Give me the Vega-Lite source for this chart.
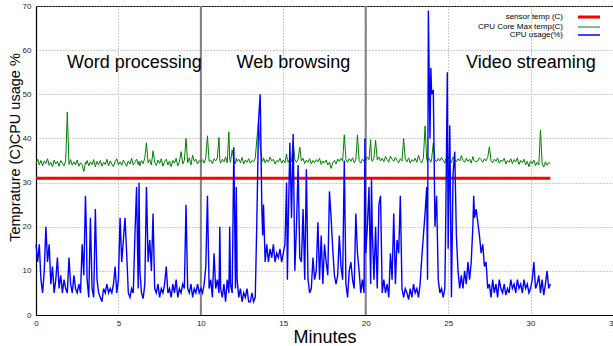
{
"$schema": "https://vega.github.io/schema/vega-lite/v6.json",
"width": 577, "height": 309,
"autosize": {"type": "none"},
"padding": {"left": 36, "top": 6, "right": 0, "bottom": 31},
"background": "white",
"config": {"view": {"stroke": "black", "strokeWidth": 1}, "font": "Liberation Sans"},
"datasets": {
"marks": [{"t": 10}, {"t": 20}],
"sensor": [{"t": 0, "v": 31}, {"t": 31.2, "v": 31}],
"notes": [{"t": 1.88, "v": 55.96, "label": "Word processing"}, {"t": 12.16, "v": 55.96, "label": "Web browsing"}, {"t": 26.08, "v": 55.96, "label": "Video streaming"}],
"series": [
{"t":0.0,"u":16,"c":34.2},{"t":0.1,"u":12,"c":35.3},{"t":0.2,"u":16,"c":34.0},{"t":0.3,"u":8,"c":35.0},{"t":0.4,"u":5,"c":33.8},{"t":0.5,"u":10,"c":34.9},{"t":0.6,"u":20,"c":34.3},{"t":0.7,"u":12,"c":35.4},{"t":0.8,"u":16,"c":33.9},{"t":0.9,"u":7,"c":34.6},
{"t":1.0,"u":11,"c":33.6},{"t":1.1,"u":5,"c":35.1},{"t":1.2,"u":8,"c":34.2},{"t":1.3,"u":13,"c":34.8},{"t":1.4,"u":6,"c":33.7},{"t":1.5,"u":9,"c":35.0},{"t":1.6,"u":5,"c":34.4},{"t":1.7,"u":8,"c":33.8},{"t":1.8,"u":6,"c":34.9},{"t":1.9,"u":5,"c":46},
{"t":2.0,"u":13,"c":34.1},{"t":2.1,"u":7,"c":35.2},{"t":2.2,"u":5,"c":33.9},{"t":2.3,"u":9,"c":34.7},{"t":2.4,"u":6,"c":34.0},{"t":2.5,"u":5,"c":35.1},{"t":2.6,"u":7,"c":33.7},{"t":2.7,"u":5,"c":34.5},{"t":2.8,"u":16,"c":34.0},{"t":2.9,"u":9,"c":32.5},
{"t":3.0,"u":27,"c":34.6},{"t":3.05,"u":20,"c":34.2},{"t":3.1,"u":8,"c":35.0},{"t":3.2,"u":4,"c":33.8},{"t":3.3,"u":22,"c":34.7},{"t":3.4,"u":6,"c":34.1},{"t":3.5,"u":4,"c":35.2},{"t":3.6,"u":24,"c":33.6},{"t":3.7,"u":8,"c":34.8},{"t":3.8,"u":5,"c":34.0},{"t":3.9,"u":4,"c":35.0},
{"t":4.0,"u":3,"c":33.7},{"t":4.1,"u":6,"c":34.6},{"t":4.2,"u":5,"c":34.1},{"t":4.3,"u":7,"c":35.3},{"t":4.4,"u":5,"c":33.8},{"t":4.5,"u":6,"c":34.9},{"t":4.6,"u":5,"c":34.2},{"t":4.7,"u":7,"c":33.6},{"t":4.8,"u":11,"c":34.8},{"t":4.9,"u":5,"c":35.4},
{"t":5.0,"u":8,"c":34.0},{"t":5.1,"u":22,"c":34.7},{"t":5.2,"u":12,"c":33.9},{"t":5.3,"u":17,"c":35.1},{"t":5.4,"u":22,"c":34.4},{"t":5.5,"u":14,"c":33.7},{"t":5.6,"u":5,"c":34.9},{"t":5.7,"u":4,"c":34.2},{"t":5.8,"u":6,"c":35.5},{"t":5.9,"u":5,"c":34.0},
{"t":6.0,"u":18,"c":34.6},{"t":6.1,"u":29,"c":35.3},{"t":6.2,"u":6,"c":34.1},{"t":6.25,"u":30,"c":34.8},{"t":6.3,"u":10,"c":33.8},{"t":6.4,"u":5,"c":35.0},{"t":6.5,"u":3.7,"c":34.3},{"t":6.6,"u":7,"c":35.6},{"t":6.7,"u":29,"c":39},{"t":6.8,"u":12,"c":34.5},{"t":6.9,"u":17,"c":35.2},
{"t":7.0,"u":10,"c":34.0},{"t":7.1,"u":23,"c":37.2},{"t":7.2,"u":6,"c":34.6},{"t":7.3,"u":5,"c":33.9},{"t":7.4,"u":7,"c":35.1},{"t":7.5,"u":4,"c":34.3},{"t":7.6,"u":6,"c":35.4},{"t":7.7,"u":5,"c":33.7},{"t":7.8,"u":7,"c":34.8},{"t":7.9,"u":11,"c":35.3},
{"t":8.0,"u":5,"c":34.0},{"t":8.1,"u":6,"c":34.9},{"t":8.2,"u":4,"c":33.6},{"t":8.3,"u":7,"c":35.0},{"t":8.4,"u":5,"c":34.4},{"t":8.5,"u":8,"c":35.5},{"t":8.6,"u":4,"c":33.8},{"t":8.7,"u":6,"c":34.7},{"t":8.8,"u":5,"c":37.0},{"t":8.9,"u":7,"c":34.2},
{"t":9.0,"u":6,"c":35.1},{"t":9.1,"u":25,"c":40.0},{"t":9.2,"u":6,"c":34.5},{"t":9.3,"u":5,"c":35.6},{"t":9.4,"u":7,"c":34.0},{"t":9.5,"u":4,"c":36.2},{"t":9.6,"u":6,"c":34.8},{"t":9.7,"u":5,"c":35.3},{"t":9.8,"u":7,"c":34.2},{"t":9.9,"u":5,"c":35.0},
{"t":10.0,"u":6,"c":34.6},{"t":10.1,"u":5,"c":35.2},{"t":10.2,"u":7,"c":34.4},{"t":10.3,"u":11,"c":35.6},{"t":10.4,"u":27,"c":40.6},{"t":10.5,"u":6,"c":34.8},{"t":10.6,"u":8,"c":35.1},{"t":10.7,"u":4,"c":34.3},{"t":10.8,"u":14,"c":35.4},{"t":10.9,"u":6,"c":34.9},
{"t":11.0,"u":8,"c":35.6},{"t":11.1,"u":5,"c":40.2},{"t":11.15,"u":20,"c":35.0},{"t":11.2,"u":6,"c":34.4},{"t":11.3,"u":4,"c":35.3},{"t":11.4,"u":7,"c":34.7},{"t":11.5,"u":3,"c":35.8},{"t":11.6,"u":8,"c":34.5},{"t":11.7,"u":5,"c":41.5},{"t":11.75,"u":20,"c":35.2},{"t":11.8,"u":7,"c":34.6},{"t":11.9,"u":5,"c":37.4},
{"t":12.0,"u":38,"c":35.0},{"t":12.1,"u":6,"c":34.3},{"t":12.15,"u":29,"c":35.5},{"t":12.2,"u":8,"c":34.8},{"t":12.3,"u":4,"c":35.3},{"t":12.4,"u":6,"c":34.5},{"t":12.5,"u":3,"c":35.7},{"t":12.6,"u":5,"c":34.2},{"t":12.7,"u":4,"c":35.1},{"t":12.8,"u":6,"c":34.6},{"t":12.9,"u":3,"c":35.4},
{"t":13.0,"u":3,"c":34.4},{"t":13.1,"u":5,"c":35.0},{"t":13.2,"u":3,"c":34.7},{"t":13.3,"u":4,"c":35.5},{"t":13.4,"u":22,"c":40.0},{"t":13.5,"u":44,"c":44.0},{"t":13.6,"u":50,"c":38.0},{"t":13.7,"u":24,"c":35.3},{"t":13.75,"u":18,"c":34.8},{"t":13.8,"u":25,"c":35.6},{"t":13.9,"u":12,"c":34.5},
{"t":14.0,"u":16,"c":35.2},{"t":14.1,"u":12,"c":34.6},{"t":14.2,"u":15,"c":35.8},{"t":14.3,"u":13,"c":34.9},{"t":14.4,"u":16,"c":35.3},{"t":14.5,"u":12,"c":34.2},{"t":14.6,"u":14,"c":35.0},{"t":14.7,"u":13,"c":34.7},{"t":14.8,"u":15,"c":35.5},{"t":14.9,"u":12,"c":34.4},
{"t":15.0,"u":14,"c":35.1},{"t":15.1,"u":16,"c":34.5},{"t":15.2,"u":30,"c":36.5},{"t":15.25,"u":8,"c":35.0},{"t":15.3,"u":20,"c":34.6},{"t":15.4,"u":39,"c":35.4},{"t":15.5,"u":22,"c":34.8},{"t":15.6,"u":41,"c":39.5},{"t":15.7,"u":10,"c":35.2},{"t":15.8,"u":20,"c":34.6},{"t":15.9,"u":34,"c":35.3},
{"t":16.0,"u":13,"c":38.0},{"t":16.1,"u":12,"c":34.9},{"t":16.2,"u":24,"c":35.5},{"t":16.3,"u":8,"c":34.3},{"t":16.4,"u":33,"c":35.1},{"t":16.5,"u":8,"c":34.6},{"t":16.6,"u":5,"c":35.4},{"t":16.7,"u":6,"c":34.2},{"t":16.8,"u":13,"c":35.0},{"t":16.9,"u":8,"c":34.5},
{"t":17.0,"u":10,"c":35.2},{"t":17.1,"u":21,"c":34.7},{"t":17.2,"u":8,"c":35.5},{"t":17.3,"u":18,"c":34.1},{"t":17.4,"u":7,"c":34.9},{"t":17.5,"u":16,"c":34.4},{"t":17.6,"u":12,"c":35.1},{"t":17.7,"u":9,"c":34.0},{"t":17.8,"u":28,"c":34.6},{"t":17.9,"u":22,"c":33.2},
{"t":18.0,"u":15,"c":34.5},{"t":18.1,"u":9,"c":35.0},{"t":18.2,"u":7,"c":34.2},{"t":18.3,"u":9,"c":35.3},{"t":18.4,"u":18,"c":34.8},{"t":18.5,"u":11,"c":35.5},{"t":18.6,"u":8,"c":34.9},{"t":18.7,"u":35,"c":40.8},{"t":18.8,"u":7,"c":35.2},{"t":18.9,"u":4,"c":34.6},
{"t":19.0,"u":10,"c":35.4},{"t":19.1,"u":12,"c":34.8},{"t":19.2,"u":8,"c":35.6},{"t":19.3,"u":6,"c":34.5},{"t":19.4,"u":23,"c":35.1},{"t":19.5,"u":14,"c":40.8},{"t":19.6,"u":10,"c":35.0},{"t":19.7,"u":5,"c":34.4},{"t":19.8,"u":8,"c":35.3},{"t":19.9,"u":5,"c":34.8},{"t":19.95,"u":40,"c":35.6},
{"t":20.0,"u":14,"c":35.0},{"t":20.1,"u":20,"c":35.8},{"t":20.2,"u":29,"c":35.2},{"t":20.3,"u":7,"c":39.7},{"t":20.35,"u":31,"c":35.4},{"t":20.4,"u":19,"c":34.8},{"t":20.5,"u":8,"c":35.6},{"t":20.6,"u":20,"c":39.6},{"t":20.7,"u":6,"c":35.1},{"t":20.8,"u":25,"c":35.8},{"t":20.9,"u":27,"c":34.9},
{"t":21.0,"u":5,"c":35.5},{"t":21.1,"u":8,"c":34.7},{"t":21.2,"u":5,"c":35.9},{"t":21.3,"u":7,"c":35.2},{"t":21.4,"u":4,"c":34.6},{"t":21.5,"u":14,"c":36.0},{"t":21.6,"u":8,"c":35.3},{"t":21.7,"u":23,"c":34.8},{"t":21.8,"u":7,"c":35.7},{"t":21.9,"u":17,"c":35.0},
{"t":22.0,"u":14,"c":34.5},{"t":22.1,"u":27,"c":35.4},{"t":22.2,"u":6,"c":34.9},{"t":22.3,"u":4,"c":40.0},{"t":22.4,"u":6,"c":35.3},{"t":22.5,"u":5,"c":34.7},{"t":22.6,"u":3.5,"c":35.6},{"t":22.7,"u":6,"c":34.4},{"t":22.8,"u":4,"c":35.2},{"t":22.9,"u":7,"c":34.8},
{"t":23.0,"u":5,"c":35.5},{"t":23.1,"u":6,"c":34.6},{"t":23.2,"u":4,"c":36.2},{"t":23.3,"u":7,"c":35.0},{"t":23.4,"u":13,"c":34.5},{"t":23.5,"u":18,"c":35.6},{"t":23.6,"u":23,"c":42.8},{"t":23.7,"u":29,"c":35.3},{"t":23.75,"u":8,"c":34.8},{"t":23.8,"u":69,"c":35.6},{"t":23.9,"u":40,"c":35.1},{"t":23.95,"u":56,"c":34.6},
{"t":24.0,"u":50,"c":35.4},{"t":24.1,"u":51,"c":39.0},{"t":24.2,"u":20,"c":35.2},{"t":24.3,"u":27,"c":34.7},{"t":24.4,"u":8,"c":35.5},{"t":24.5,"u":5,"c":34.9},{"t":24.6,"u":6,"c":35.7},{"t":24.7,"u":4,"c":35.0},{"t":24.8,"u":6,"c":34.4},{"t":24.85,"u":20,"c":35.3},{"t":24.95,"u":55,"c":34.8},
{"t":25.0,"u":15,"c":36.0},{"t":25.1,"u":43,"c":35.1},{"t":25.2,"u":4,"c":34.5},{"t":25.3,"u":32,"c":35.8},{"t":25.4,"u":37,"c":35.2},{"t":25.5,"u":18,"c":34.7},{"t":25.6,"u":10,"c":35.4},{"t":25.7,"u":6,"c":34.9},{"t":25.8,"u":9,"c":36.1},{"t":25.9,"u":6,"c":35.0},
{"t":26.0,"u":10,"c":34.6},{"t":26.1,"u":7,"c":35.5},{"t":26.2,"u":12,"c":34.8},{"t":26.3,"u":8,"c":35.3},{"t":26.4,"u":12,"c":34.4},{"t":26.5,"u":20,"c":35.9},{"t":26.55,"u":27,"c":35.1},{"t":26.6,"u":22,"c":35.0},{"t":26.7,"u":24,"c":34.7},{"t":26.8,"u":21,"c":34.9},{"t":26.9,"u":18,"c":35.6},
{"t":27.0,"u":14,"c":35.2},{"t":27.1,"u":16,"c":34.6},{"t":27.2,"u":11,"c":35.4},{"t":27.3,"u":12,"c":34.9},{"t":27.4,"u":6,"c":35.7},{"t":27.5,"u":7,"c":38.1},{"t":27.6,"u":4,"c":35.0},{"t":27.7,"u":8,"c":34.5},{"t":27.8,"u":5,"c":35.3},{"t":27.9,"u":7,"c":34.8},
{"t":28.0,"u":4,"c":35.6},{"t":28.1,"u":8,"c":34.4},{"t":28.2,"u":6,"c":35.1},{"t":28.3,"u":5,"c":34.7},{"t":28.4,"u":7,"c":35.5},{"t":28.5,"u":4.5,"c":34.2},{"t":28.6,"u":6,"c":35.0},{"t":28.7,"u":5,"c":34.6},{"t":28.8,"u":8,"c":35.4},{"t":28.9,"u":6,"c":34.3},
{"t":29.0,"u":7,"c":35.2},{"t":29.1,"u":5,"c":34.7},{"t":29.2,"u":8,"c":35.6},{"t":29.3,"u":6,"c":34.1},{"t":29.4,"u":7,"c":35.0},{"t":29.5,"u":5,"c":34.5},{"t":29.6,"u":8,"c":35.3},{"t":29.7,"u":6,"c":34.0},{"t":29.8,"u":7,"c":34.8},{"t":29.9,"u":5,"c":33.6},
{"t":30.0,"u":6,"c":34.9},{"t":30.1,"u":8,"c":34.3},{"t":30.2,"u":12,"c":35.1},{"t":30.3,"u":6,"c":33.8},{"t":30.4,"u":7,"c":34.6},{"t":30.5,"u":9,"c":34.0},{"t":30.6,"u":5,"c":41.9},{"t":30.7,"u":8,"c":34.4},{"t":30.8,"u":4.5,"c":33.5},{"t":30.9,"u":7,"c":34.7},
{"t":31.0,"u":10,"c":33.9},{"t":31.1,"u":6,"c":34.5},{"t":31.2,"u":7,"c":34.4}
]
},
"layer": [
{"data": {"name": "marks"}, "mark": {"type": "rule", "color": "#808080", "strokeWidth": 2},
 "encoding": {"x": {"field": "t", "type": "quantitative", "title": "Minutes",
   "scale": {"domain": [0, 35], "nice": false, "zero": false},
   "axis": {"values": [0,5,10,15,20,25,30,35], "ticks": false, "labelFontSize": 8, "labelPadding": 4, "labelColor": "#222", "labelFlush": false, "labelOverlap": false, "labelBound": false,
     "grid": true, "gridDash": [1,2], "gridColor": "#9a9a9a", "domainColor": "black", "domainWidth": 1.2,
     "titleFontSize": 18, "titleFontWeight": "normal", "titleColor": "black", "titleBaseline": "alphabetic", "titleY": 27}}}},
{"data": {"name": "sensor"}, "mark": {"type": "line", "strokeWidth": 3},
 "encoding": {"x": {"field": "t", "type": "quantitative", "title": "Minutes"},
   "y": {"field": "v", "type": "quantitative", "title": "Temprature (C)CPU usage %",
     "scale": {"domain": [0, 70], "nice": false},
     "axis": {"values": [0,10,20,30,40,50,60,70], "ticks": false, "labelFontSize": 8, "labelPadding": 5, "labelColor": "#222",
       "grid": true, "gridDash": [1,2], "gridColor": "#9a9a9a", "domainColor": "black", "domainWidth": 1.2,
       "titleFontSize": 14.5, "titleFontWeight": "normal", "titleColor": "black", "titleX": -21, "titleY": 141, "titleBaseline": "middle", "titleAngle": -90}},
   "color": {"datum": "sensor temp (C)",
     "scale": {"domain": ["sensor temp (C)", "CPU Core Max temp(C)", "CPU usage(%)"], "range": ["#ff0000", "#008000", "#0000ff"]},
     "legend": {"orient": "top-right", "offset": 7, "title": null, "padding": 0, "symbolType": "M-11,0H11", "symbolSize": 4, "symbolOffset": 11, "labelOffset": -30, "labelAlign": "right", "labelFontSize": 8, "labelColor": "black", "labelLimit": 300, "rowPadding": 0,
       "encode": {"symbols": {"update": {"strokeWidth": {"signal": "datum.value === 'sensor temp (C)' ? 3 : (datum.value === 'CPU usage(%)' ? 1.5 : 1)"}, "fill": {"value": "transparent"}}}}}}}},
{"data": {"name": "series"}, "mark": {"type": "line", "strokeWidth": 1},
 "encoding": {"x": {"field": "t", "type": "quantitative", "title": "Minutes"},
   "y": {"field": "c", "type": "quantitative", "title": "Temprature (C)CPU usage %"},
   "color": {"datum": "CPU Core Max temp(C)"}}},
{"data": {"name": "series"}, "mark": {"type": "line", "strokeWidth": 1.4},
 "encoding": {"x": {"field": "t", "type": "quantitative", "title": "Minutes"},
   "y": {"field": "u", "type": "quantitative", "title": "Temprature (C)CPU usage %"},
   "color": {"datum": "CPU usage(%)"}}},
{"data": {"name": "notes"}, "mark": {"type": "text", "align": "left", "baseline": "alphabetic", "fontSize": 18, "font": "Liberation Sans", "color": "black"},
 "encoding": {"x": {"field": "t", "type": "quantitative"}, "y": {"field": "v", "type": "quantitative"}, "text": {"field": "label"}}}
]
}
